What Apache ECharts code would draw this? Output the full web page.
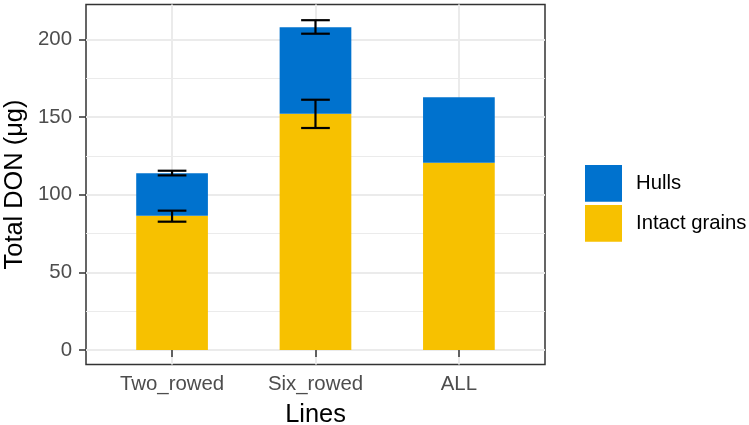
<!DOCTYPE html>
<html>
<head>
<meta charset="utf-8">
<script src="https://cdn.jsdelivr.net/npm/echarts@6/dist/echarts.min.js"></script>
<style>
html,body{margin:0;padding:0;background:#fff;}
#chart{width:749px;height:425px;}
</style>
</head>
<body>
<div id="chart"></div>
<script>
// ---- data ----
const categories = ['Two_rowed', 'Six_rowed', 'ALL'];
const intactGrains = [86.4, 152.0, 120.6];
const hulls = [27.3, 55.7, 42.1];
const intactErrLow = [82.6, 142.9, null];
const intactErrHigh = [89.7, 161.1, null];
const totalErrLow = [112.4, 203.6, null];
const totalErrHigh = [115.4, 212.3, null];
const yTicks = [0, 50, 100, 150, 200];
const seriesNames = ['Hulls', 'Intact grains'];

const FONT = 'Liberation Sans, Arial, Helvetica, sans-serif';
const Y_MIN = -9.33, Y_MAX = 222.4;
const BLUE = '#0072CE', YELLOW = '#F7C100';

const errData = [];
for (let i = 0; i < categories.length; i++) {
  if (intactErrLow[i] != null) errData.push([i, intactErrLow[i], intactErrHigh[i]]);
  if (totalErrLow[i] != null) errData.push([i, totalErrLow[i], totalErrHigh[i]]);
}

const chart = echarts.init(document.getElementById('chart'), null, {renderer: 'canvas'});
chart.setOption({
  animation: false,
  backgroundColor: '#fff',
  textStyle: {fontFamily: FONT},
  grid: [
    {left: 86, right: 204, top: 4.5, bottom: 60.5, show: true, borderColor: '#333333', borderWidth: 1.5, backgroundColor: '#fff', containLabel: false, outerBoundsMode: 'none'},
    {left: 172.06, right: 290.1, top: 4.5, bottom: 60.5, show: false, containLabel: false, outerBoundsMode: 'none'}
  ],
  xAxis: [
    {gridIndex: 0, type: 'value', min: 0, max: 1, show: false},
    {
      gridIndex: 1, type: 'category', data: categories, boundaryGap: false,
      axisLine: {show: false},
      axisTick: {show: true, length: 7, lineStyle: {color: '#333333', width: 1.5}},
      axisLabel: {fontSize: 20.4, color: '#4D4D4D', margin: 10, fontFamily: FONT},
      splitLine: {show: true, lineStyle: {color: '#EBEBEB', width: 2}},
      name: 'Lines', nameLocation: 'middle', nameGap: 37.5,
      nameTextStyle: {fontSize: 25.4, color: '#000', fontFamily: FONT}
    }
  ],
  yAxis: [
    {
      gridIndex: 0, type: 'value', min: Y_MIN, max: Y_MAX,
      axisLine: {show: false},
      axisTick: {show: true, length: 7, customValues: yTicks, lineStyle: {color: '#333333', width: 1.5}},
      axisLabel: {fontSize: 20.4, color: '#4D4D4D', margin: 14, customValues: yTicks, fontFamily: FONT},
      splitLine: {show: true, lineStyle: {color: '#EBEBEB', width: 2}},
      minorTick: {show: false, splitNumber: 2},
      minorSplitLine: {show: true, lineStyle: {color: '#EBEBEB', width: 1}},
      name: 'Total DON (μg)', nameLocation: 'middle', nameGap: 56.5, nameRotate: 90,
      nameTextStyle: {fontSize: 25.4, color: '#000', fontFamily: FONT}
    },
    {gridIndex: 1, type: 'value', min: Y_MIN, max: Y_MAX, show: false}
  ],
  legend: {
    data: seriesNames,
    orient: 'vertical', left: 585, top: 165, padding: 0,
    itemWidth: 37, itemHeight: 36.7, itemGap: 3.3,
    icon: 'rect',
    textStyle: {fontSize: 20.3, color: '#000', fontFamily: FONT, padding: [0, 0, 0, 9]}
  },
  series: [
    {
      name: seriesNames[1], type: 'bar', stack: 'total', xAxisIndex: 1, yAxisIndex: 1,
      data: intactGrains, barWidth: 71.7, clip: false,
      itemStyle: {color: YELLOW}
    },
    {
      name: seriesNames[0], type: 'bar', stack: 'total', xAxisIndex: 1, yAxisIndex: 1,
      data: hulls, barWidth: 71.7, clip: false,
      itemStyle: {color: BLUE}
    },
    {
      type: 'custom', xAxisIndex: 1, yAxisIndex: 1, data: errData, clip: false, z: 10,
      renderItem: function (params, api) {
        const x = api.value(0);
        const lo = api.coord([x, api.value(1)]);
        const hi = api.coord([x, api.value(2)]);
        const half = api.size([1, 0])[0] * 0.1;
        const style = {stroke: '#000', lineWidth: 2.2, fill: null};
        return {
          type: 'group',
          children: [
            {type: 'line', shape: {x1: lo[0], y1: lo[1], x2: hi[0], y2: hi[1]}, style: style},
            {type: 'line', shape: {x1: lo[0] - half, y1: lo[1], x2: lo[0] + half, y2: lo[1]}, style: style},
            {type: 'line', shape: {x1: hi[0] - half, y1: hi[1], x2: hi[0] + half, y2: hi[1]}, style: style}
          ]
        };
      }
    }
  ]
});
</script>
</body>
</html>
